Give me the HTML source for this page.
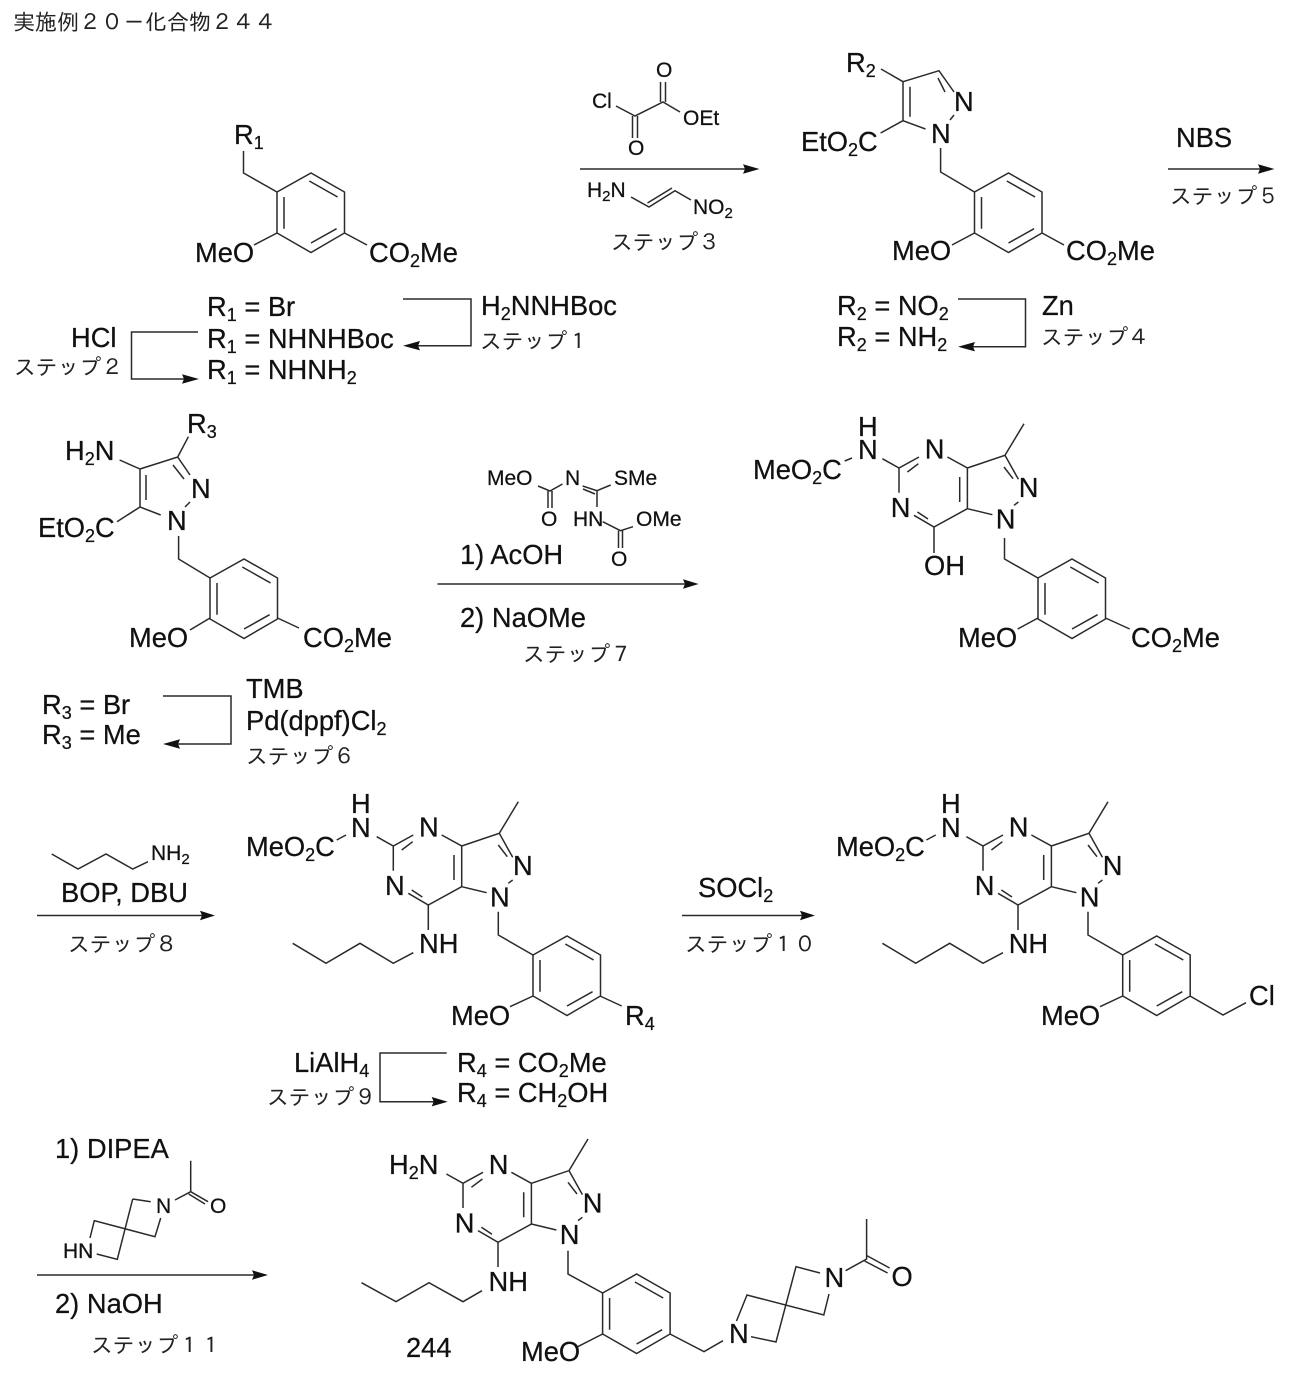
<!DOCTYPE html>
<html><head><meta charset="utf-8">
<style>
html,body{margin:0;padding:0;background:#fff;width:1290px;height:1390px;overflow:hidden}
svg{display:block}
text{font-family:"Liberation Sans","IPAGothic",sans-serif;font-size:27.3px;fill:#111;stroke:#111;stroke-width:.25}
.s{font-size:21px}
.j{font-family:"IPAGothic","Noto Sans CJK JP",sans-serif;font-size:21.8px;fill:#222;stroke:none}
path{fill:none;stroke:#2a2a2a;stroke-width:1.5}
polygon{fill:#111;stroke:none}
</style></head><body>
<svg width="1290" height="1390" viewBox="0 0 1290 1390" xmlns="http://www.w3.org/2000/svg">
<defs>
<g id="bz"><path d="M0 0L34 -19L67.5 0V41L34 60.5L0 41ZM7 5V36.7M32.3 -11L60.6 5M34 51L59.6 36.7"/></g>
<g id="bi"><path d="M-16.6 -9.3L0 0L20 -11M8.4 4L19.4 -4.3M48.4 -11L68.4 0V40.7L35 59L15 47.3M60.7 9V34M18.4 44L29 51M0 0V24.7M68.4 40.7L93.4 46.7M119.4 34L115 37.3M68.4 0L106 -12.7L119.4 11.3M105 -1L114 10.7M106 -12.7L125 -44.3"/></g>
</defs>

<text class="j" x="13" y="30" style="font-size:22px">実施例２０－化合物２４４</text>

<!-- structure 1 -->
<use href="#bz" x="277" y="192"/>
<path d="M243.5 151V173L277 192M277 233L254 245M344.5 233L367 245"/>
<text x="234" y="144">R<tspan dy="5" font-size="18">1</tspan></text>
<text x="195" y="262">MeO</text>
<text x="369" y="262">CO<tspan dy="5" font-size="18">2</tspan><tspan dy="-5">Me</tspan></text>

<text x="207" y="316">R<tspan dy="5" font-size="18">1</tspan><tspan dy="-5"> = Br</tspan></text>
<text x="207" y="348">R<tspan dy="5" font-size="18">1</tspan><tspan dy="-5"> = NHNHBoc</tspan></text>
<text x="207" y="379">R<tspan dy="5" font-size="18">1</tspan><tspan dy="-5"> = NHNH</tspan><tspan dy="5" font-size="18">2</tspan></text>
<path d="M403 299H471V345.7H415"/><polygon points="403,345.7 420,341 418,345.7 420,350.4"/>
<path d="M198 332H131.5V379H188"/><polygon points="199,379 182,374.3 184,379 182,383.7"/>
<text x="481" y="315">H<tspan dy="5" font-size="18">2</tspan><tspan dy="-5">NNHBoc</tspan></text>
<text class="j" x="480" y="349">ステップ１</text>
<text x="71" y="347">HCl</text>
<text class="j" x="14" y="375">ステップ２</text>

<!-- reagents step 3 -->
<text class="s" x="592" y="108">Cl</text>
<path d="M616 106L635 116L663 102L680 112M632.5 116V138M637.5 116V138M660.5 102V82M665.5 102V82"/>
<text class="s" x="628" y="155">O</text>
<text class="s" x="656" y="77">O</text>
<text class="s" x="683" y="125">OEt</text>
<path d="M580 169H750"/><polygon points="759.5,169 743,164.3 745,169 743,173.7"/>
<text class="s" x="587" y="197">H<tspan dy="4" font-size="15">2</tspan><tspan dy="-4">N</tspan></text>
<path d="M631 197L649 207L675 190.7L691 200M647.5 203L672 188"/>
<text class="s" x="693" y="214">NO<tspan dy="4" font-size="15">2</tspan></text>
<text class="j" x="611" y="250">ステップ３</text>

<!-- structure 2 -->
<use href="#bz" x="974.5" y="192"/>
<path d="M903 81.7L939 70.7L954 92M903 81.7V120.7L925.5 129M910 86.7V116.7M938 78L945 92M954 115L950 120M903 81.7L881 69M903 120.7L880.6 133M940.6 148V172L974.5 192M974.5 233L952 245M1042 233L1064 245"/>
<text x="846" y="72">R<tspan dy="5" font-size="18">2</tspan></text>
<text x="954" y="111">N</text>
<text x="931" y="143">N</text>
<text x="801" y="151">EtO<tspan dy="5" font-size="18">2</tspan><tspan dy="-5">C</tspan></text>
<text x="892" y="260">MeO</text>
<text x="1066" y="260">CO<tspan dy="5" font-size="18">2</tspan><tspan dy="-5">Me</tspan></text>
<text x="837" y="315">R<tspan dy="5" font-size="18">2</tspan><tspan dy="-5"> = NO</tspan><tspan dy="5" font-size="18">2</tspan></text>
<text x="837" y="346">R<tspan dy="5" font-size="18">2</tspan><tspan dy="-5"> = NH</tspan><tspan dy="5" font-size="18">2</tspan></text>
<path d="M958 299H1025.5V346.7H970"/><polygon points="958,346.7 975,342 973,346.7 975,351.4"/>
<text x="1042" y="315">Zn</text>
<text class="j" x="1041" y="345">ステップ４</text>

<text x="1176" y="147">NBS</text>
<path d="M1168 169H1266"/><polygon points="1274.5,169 1258,164.3 1260,169 1258,173.7"/>
<text class="j" x="1170" y="204">ステップ５</text>

<!-- structure 3 -->
<use href="#bz" x="210" y="578"/>
<path d="M140 469L177.7 457L190 475M140 469V507L160.7 515M146 475V500M173 465L184 479M190 502L185 507M140 469L119.6 460M177.7 457L188.4 436.7M140 507L117 521.7M178.6 536V559L210 578M210 618L190 630M277.5 618L299 628"/>
<text x="187" y="433">R<tspan dy="5" font-size="18">3</tspan></text>
<text x="65" y="460">H<tspan dy="5" font-size="18">2</tspan><tspan dy="-5">N</tspan></text>
<text x="191" y="498">N</text>
<text x="167" y="530">N</text>
<text x="38" y="537">EtO<tspan dy="5" font-size="18">2</tspan><tspan dy="-5">C</tspan></text>
<text x="129" y="647">MeO</text>
<text x="303" y="647">CO<tspan dy="5" font-size="18">2</tspan><tspan dy="-5">Me</tspan></text>
<text x="42" y="714">R<tspan dy="5" font-size="18">3</tspan><tspan dy="-5"> = Br</tspan></text>
<text x="42" y="744">R<tspan dy="5" font-size="18">3</tspan><tspan dy="-5"> = Me</tspan></text>
<path d="M163 696H231V744H175"/><polygon points="163,744 180,739.3 178,744 180,748.7"/>
<text x="246" y="698">TMB</text>
<text x="246" y="730">Pd(dppf)Cl<tspan dy="5" font-size="18">2</tspan></text>
<text class="j" x="246" y="764">ステップ６</text>

<!-- reagent step 7 -->
<text class="s" x="487" y="485">MeO</text>
<text class="s" x="565" y="485">N</text>
<text class="s" x="614" y="485">SMe</text>
<text class="s" x="541" y="526">O</text>
<text class="s" x="573" y="526">HN</text>
<text class="s" x="636" y="526">OMe</text>
<text class="s" x="611" y="566">O</text>
<path d="M538 486L550 491L562.5 484M548 491V508M552 491V508M582.6 486L597 490.7L610.7 485M583 489L595 494M597 491V507M602.7 521.7L620.5 530.7L633 526.7M618.5 530.7V548M622.5 530.7V548"/>
<text x="460" y="564">1) AcOH</text>
<path d="M437.5 584H690"/><polygon points="698.6,584 683,579.3 685,584 683,588.7"/>
<text x="460" y="627">2) NaOMe</text>
<text class="j" x="523" y="662">ステップ７</text>

<!-- structure 7 -->
<use href="#bi" x="899" y="468"/>
<use href="#bz" x="1038" y="578"/>
<path d="M1004.5 538V559L1038 578M1038 618L1017.7 629M1105.5 618L1129.7 629M844.7 461L852 458M934 527V553"/>
<text x="858" y="436">H</text>
<text x="858" y="459">N</text>
<text x="753" y="479">MeO<tspan dy="5" font-size="18">2</tspan><tspan dy="-5">C</tspan></text>
<text x="924.7" y="458.7">N</text>
<text x="890.7" y="517">N</text>
<text x="995.7" y="528.7">N</text>
<text x="1018.7" y="497">N</text>
<text x="924" y="575">OH</text>
<text x="958" y="647">MeO</text>
<text x="1131" y="647">CO<tspan dy="5" font-size="18">2</tspan><tspan dy="-5">Me</tspan></text>

<!-- step 8 -->
<path d="M51.7 854L78 869L106 854L132.7 869L148 861.7"/>
<text class="s" x="151" y="860">NH<tspan dy="4" font-size="15">2</tspan></text>
<text x="61" y="902">BOP, DBU</text>
<path d="M37 915.5H207"/><polygon points="215,915.5 200,910.8 202,915.5 200,920.2"/>
<text class="j" x="68" y="952">ステップ８</text>

<!-- structure 8 -->
<use href="#bi" x="393.3" y="846"/>
<use href="#bz" x="533" y="955"/>
<path d="M498.3 911.7V935L533 955M533 996L510 1006.7M600 996L621.7 1006M336.7 840L346 835M428.3 905V930M292.7 943.3L326 963.3L360 943.3L393.3 963.3L413.3 952.7"/>
<text x="351" y="813">H</text>
<text x="351" y="837">N</text>
<text x="246" y="856">MeO<tspan dy="5" font-size="18">2</tspan><tspan dy="-5">C</tspan></text>
<text x="419" y="836.7">N</text>
<text x="385" y="895">N</text>
<text x="490" y="906.7">N</text>
<text x="513" y="875">N</text>
<text x="419" y="953">NH</text>
<text x="451" y="1025">MeO</text>
<text x="625" y="1025">R<tspan dy="5" font-size="18">4</tspan></text>
<text x="294" y="1072">LiAlH<tspan dy="5" font-size="18">4</tspan></text>
<text class="j" x="267" y="1105">ステップ９</text>
<path d="M446.7 1053H380V1101.7H438"/><polygon points="447.7,1101.7 431.7,1097 433.7,1101.7 431.7,1106.4"/>
<text x="457" y="1072">R<tspan dy="5" font-size="18">4</tspan><tspan dy="-5"> = CO</tspan><tspan dy="5" font-size="18">2</tspan><tspan dy="-5">Me</tspan></text>
<text x="457" y="1102">R<tspan dy="5" font-size="18">4</tspan><tspan dy="-5"> = CH</tspan><tspan dy="5" font-size="18">2</tspan><tspan dy="-5">OH</tspan></text>

<!-- step 10 -->
<text x="698" y="897">SOCl<tspan dy="5" font-size="18">2</tspan></text>
<path d="M682 915.5H807"/><polygon points="815,915.5 800,910.8 802,915.5 800,920.2"/>
<text class="j" x="685" y="952">ステップ１０</text>

<!-- structure 10 -->
<use href="#bi" x="983" y="846"/>
<use href="#bz" x="1122.7" y="955"/>
<path d="M1088 911.7V935L1122.7 955M1122.7 996L1100 1006.7M1190 996L1223 1015L1246 1002.7M926.4 840L935.7 835M1018 905V930M882.4 943.3L915.7 963.3L949.7 943.3L983 963.3L1003 952.7"/>
<text x="941" y="813">H</text>
<text x="941" y="837">N</text>
<text x="836" y="856">MeO<tspan dy="5" font-size="18">2</tspan><tspan dy="-5">C</tspan></text>
<text x="1008.7" y="836.7">N</text>
<text x="974.7" y="895">N</text>
<text x="1079.7" y="906.7">N</text>
<text x="1102.7" y="875">N</text>
<text x="1008.7" y="953">NH</text>
<text x="1041" y="1025">MeO</text>
<text x="1249" y="1005">Cl</text>

<!-- step 11 -->
<text x="55" y="1158">1) DIPEA</text>
<path d="M190.7 1160.7V1191.7L208 1201.7M188.7 1194L205 1204M175 1200L190.7 1191.7M132.7 1199L150.7 1201.7M132.7 1199L117.3 1259.3L96.7 1254M160.7 1218L155 1236.7L94.3 1220.7L90 1238"/>
<text class="s" x="156" y="1213">N</text>
<text class="s" x="210" y="1213">O</text>
<text class="s" x="63" y="1258">HN</text>
<path d="M37 1275H260"/><polygon points="268,1275 252,1270.3 254,1275 252,1279.7"/>
<text x="55" y="1313">2) NaOH</text>
<text class="j" x="91" y="1353">ステップ１１</text>

<!-- structure 244 -->
<use href="#bi" x="463" y="1183.3"/>
<use href="#bz" x="602.6" y="1293"/>
<path d="M568 1250.7V1274L602.6 1293M602.6 1334L577.7 1346.7M670 1334L704 1351.7L723 1340.7M498 1242V1267M361.5 1282.7L396 1301.7L429 1282.7L463 1301.7L482 1290.7M751 1336.7L776 1342L796 1266.7L820 1273M736.5 1321L747 1295L823.8 1315L829 1294M845.6 1270.7L866.6 1259V1219M866.6 1255.5L889.6 1268M864.6 1261L887.6 1273"/>
<text x="389" y="1174">H<tspan dy="5" font-size="18">2</tspan><tspan dy="-5">N</tspan></text>
<text x="488.7" y="1174">N</text>
<text x="454.7" y="1232.3">N</text>
<text x="559.7" y="1244">N</text>
<text x="582.7" y="1212.3">N</text>
<text x="488.5" y="1291">NH</text>
<text x="406" y="1357">244</text>
<text x="521" y="1361">MeO</text>
<text x="729" y="1343">N</text>
<text x="824.5" y="1287">N</text>
<text x="891.5" y="1286">O</text>
</svg>
</body></html>
